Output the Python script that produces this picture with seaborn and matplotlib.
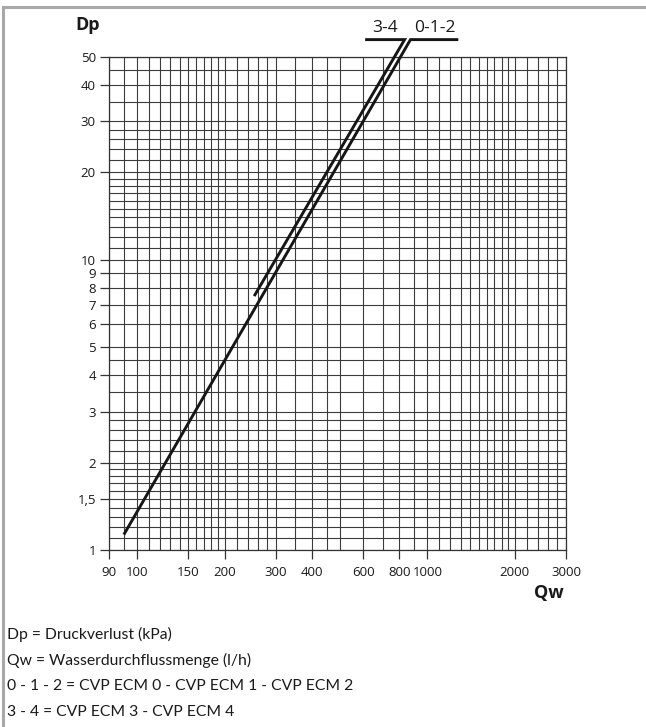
import numpy as np
import pandas as pd
import matplotlib
matplotlib.use("Agg")
import matplotlib.pyplot as plt
from matplotlib.patches import Rectangle
import seaborn as sns

# curve 0-1-2 (CVP ECM 0/1/2): start, top of leader, end of leader bar
q_012 = [90, 874, 1277]
dp_012 = [1.13, 57.4, 57.4]
# curve 3-4 (CVP ECM 3/4)
q_34 = [253, 834, 610]
dp_34 = [7.5, 57.4, 57.4]
curve_labels = ["0-1-2", "3-4"]

# axis ticks as printed on the chart
q_ticks = [80, 100, 150, 200, 300, 400, 600, 800, 1000, 2000, 3000]
q_ticklabels = ["90", "100", "150", "200", "300", "400", "600", "800", "1000", "2000", "3000"]
dp_ticks = [1, 1.5, 2, 3, 4, 5, 6, 7, 8, 9, 10, 20, 30, 40, 50]
dp_ticklabels = ["1", "1,5", "2", "3", "4", "5", "6", "7", "8", "9", "10", "20", "30", "40", "50"]

# grid lines of the log paper
q_grid = ([90] + list(range(100, 201, 10)) + [220, 240, 260, 280, 300, 350, 400, 450]
          + list(range(500, 2001, 100)) + [2200, 2400, 2600, 2800, 3000])
dp_grid = ([round(v, 1) for v in np.arange(1.0, 2.05, 0.1)] + [2.2, 2.4, 2.6, 2.8, 3.0, 3.5, 4, 4.5, 5, 6, 7, 8, 9, 10]
           + list(range(11, 21)) + [22, 24, 26, 28, 30, 35, 40, 45, 50])

notes = ["Dp = Druckverlust (kPa)",
         "Qw = Wasserdurchflussmenge (l/h)",
         "0 - 1 - 2 = CVP ECM 0 - CVP ECM 1 - CVP ECM 2",
         "3 - 4 = CVP ECM 3 - CVP ECM 4"]


sns.set_theme(style="white")
plt.rcParams['font.family'] = ['Open Sans', 'DejaVu Sans']

W, H = 646, 727
fig = plt.figure(figsize=(W / 100, H / 100), dpi=100)
ax = fig.add_axes([109 / W, 1 - 550 / H, 457 / W, 493 / H])

df = pd.concat([
    pd.DataFrame({"Qw": q_012, "Dp": dp_012, "curve": curve_labels[0]}),
    pd.DataFrame({"Qw": q_34, "Dp": dp_34, "curve": curve_labels[1]}),
])
for name, grp in df.groupby("curve"):
    sns.lineplot(ax=ax, data=grp, x="Qw", y="Dp", sort=False, estimator=None,
                 color="#161616", linewidth=2.1, clip_on=False, zorder=5,
                 solid_joinstyle="miter", solid_capstyle="butt")
    # label above the leader bar
    bar_q = grp["Qw"].values[1:]
    ax.annotate(name, xy=(np.sqrt(bar_q[0] * bar_q[1]), grp["Dp"].values[-1]),
                xytext=(0, 2.5), textcoords="offset points", ha="center", va="bottom",
                fontsize=12.5, color="#1a1a1a", annotation_clip=False)

ax.set_xscale("log")
ax.set_yscale("log")
ax.set_xlim(80, 3000)
ax.set_ylim(1, 50)

ax.set_xticks(q_ticks)
ax.set_xticklabels(q_ticklabels)
ax.set_yticks(dp_ticks)
ax.set_yticklabels(dp_ticklabels)
ax.set_xticks(q_grid, minor=True)
ax.set_yticks(dp_grid, minor=True)
ax.xaxis.set_minor_formatter(matplotlib.ticker.NullFormatter())
ax.yaxis.set_minor_formatter(matplotlib.ticker.NullFormatter())

ax.tick_params(which="major", direction="out", length=6.5, width=0.9, color="#333333",
               labelsize=9.5, labelcolor="#1a1a1a", pad=3, bottom=True, left=True)
ax.tick_params(axis="x", which="major", pad=5)
ax.tick_params(which="minor", length=0)
ax.grid(True, which="both", color="#3c3c3c", linewidth=0.8)
ax.set_xlabel("")
ax.set_ylabel("")
for s in ax.spines.values():
    s.set_color("#333333")
    s.set_linewidth(0.9)

# axis titles
fig.text(88 / W, 1 - 25 / H, "Dp", fontsize=13, fontweight="bold", ha="center", va="center", color="#1a1a1a")
fig.text(549 / W, 1 - 593 / H, "Qw", fontsize=13, fontweight="bold", ha="center", va="center", color="#1a1a1a")

# legend notes
for i, line in enumerate(notes):
    fig.text(7 / W, 1 - (634 + 26 * i) / H, line, fontsize=11.3, ha="left", va="center",
             color="#1a1a1a", family=["Lato", "DejaVu Sans"])

# grey frame
fig.add_artist(Rectangle((3 / W, -0.05), 1.2, 1.05 - 7 / H, transform=fig.transFigure,
                         fill=False, edgecolor="#a8a8a8", linewidth=2.2))

plt.savefig("out.png", dpi=100)
